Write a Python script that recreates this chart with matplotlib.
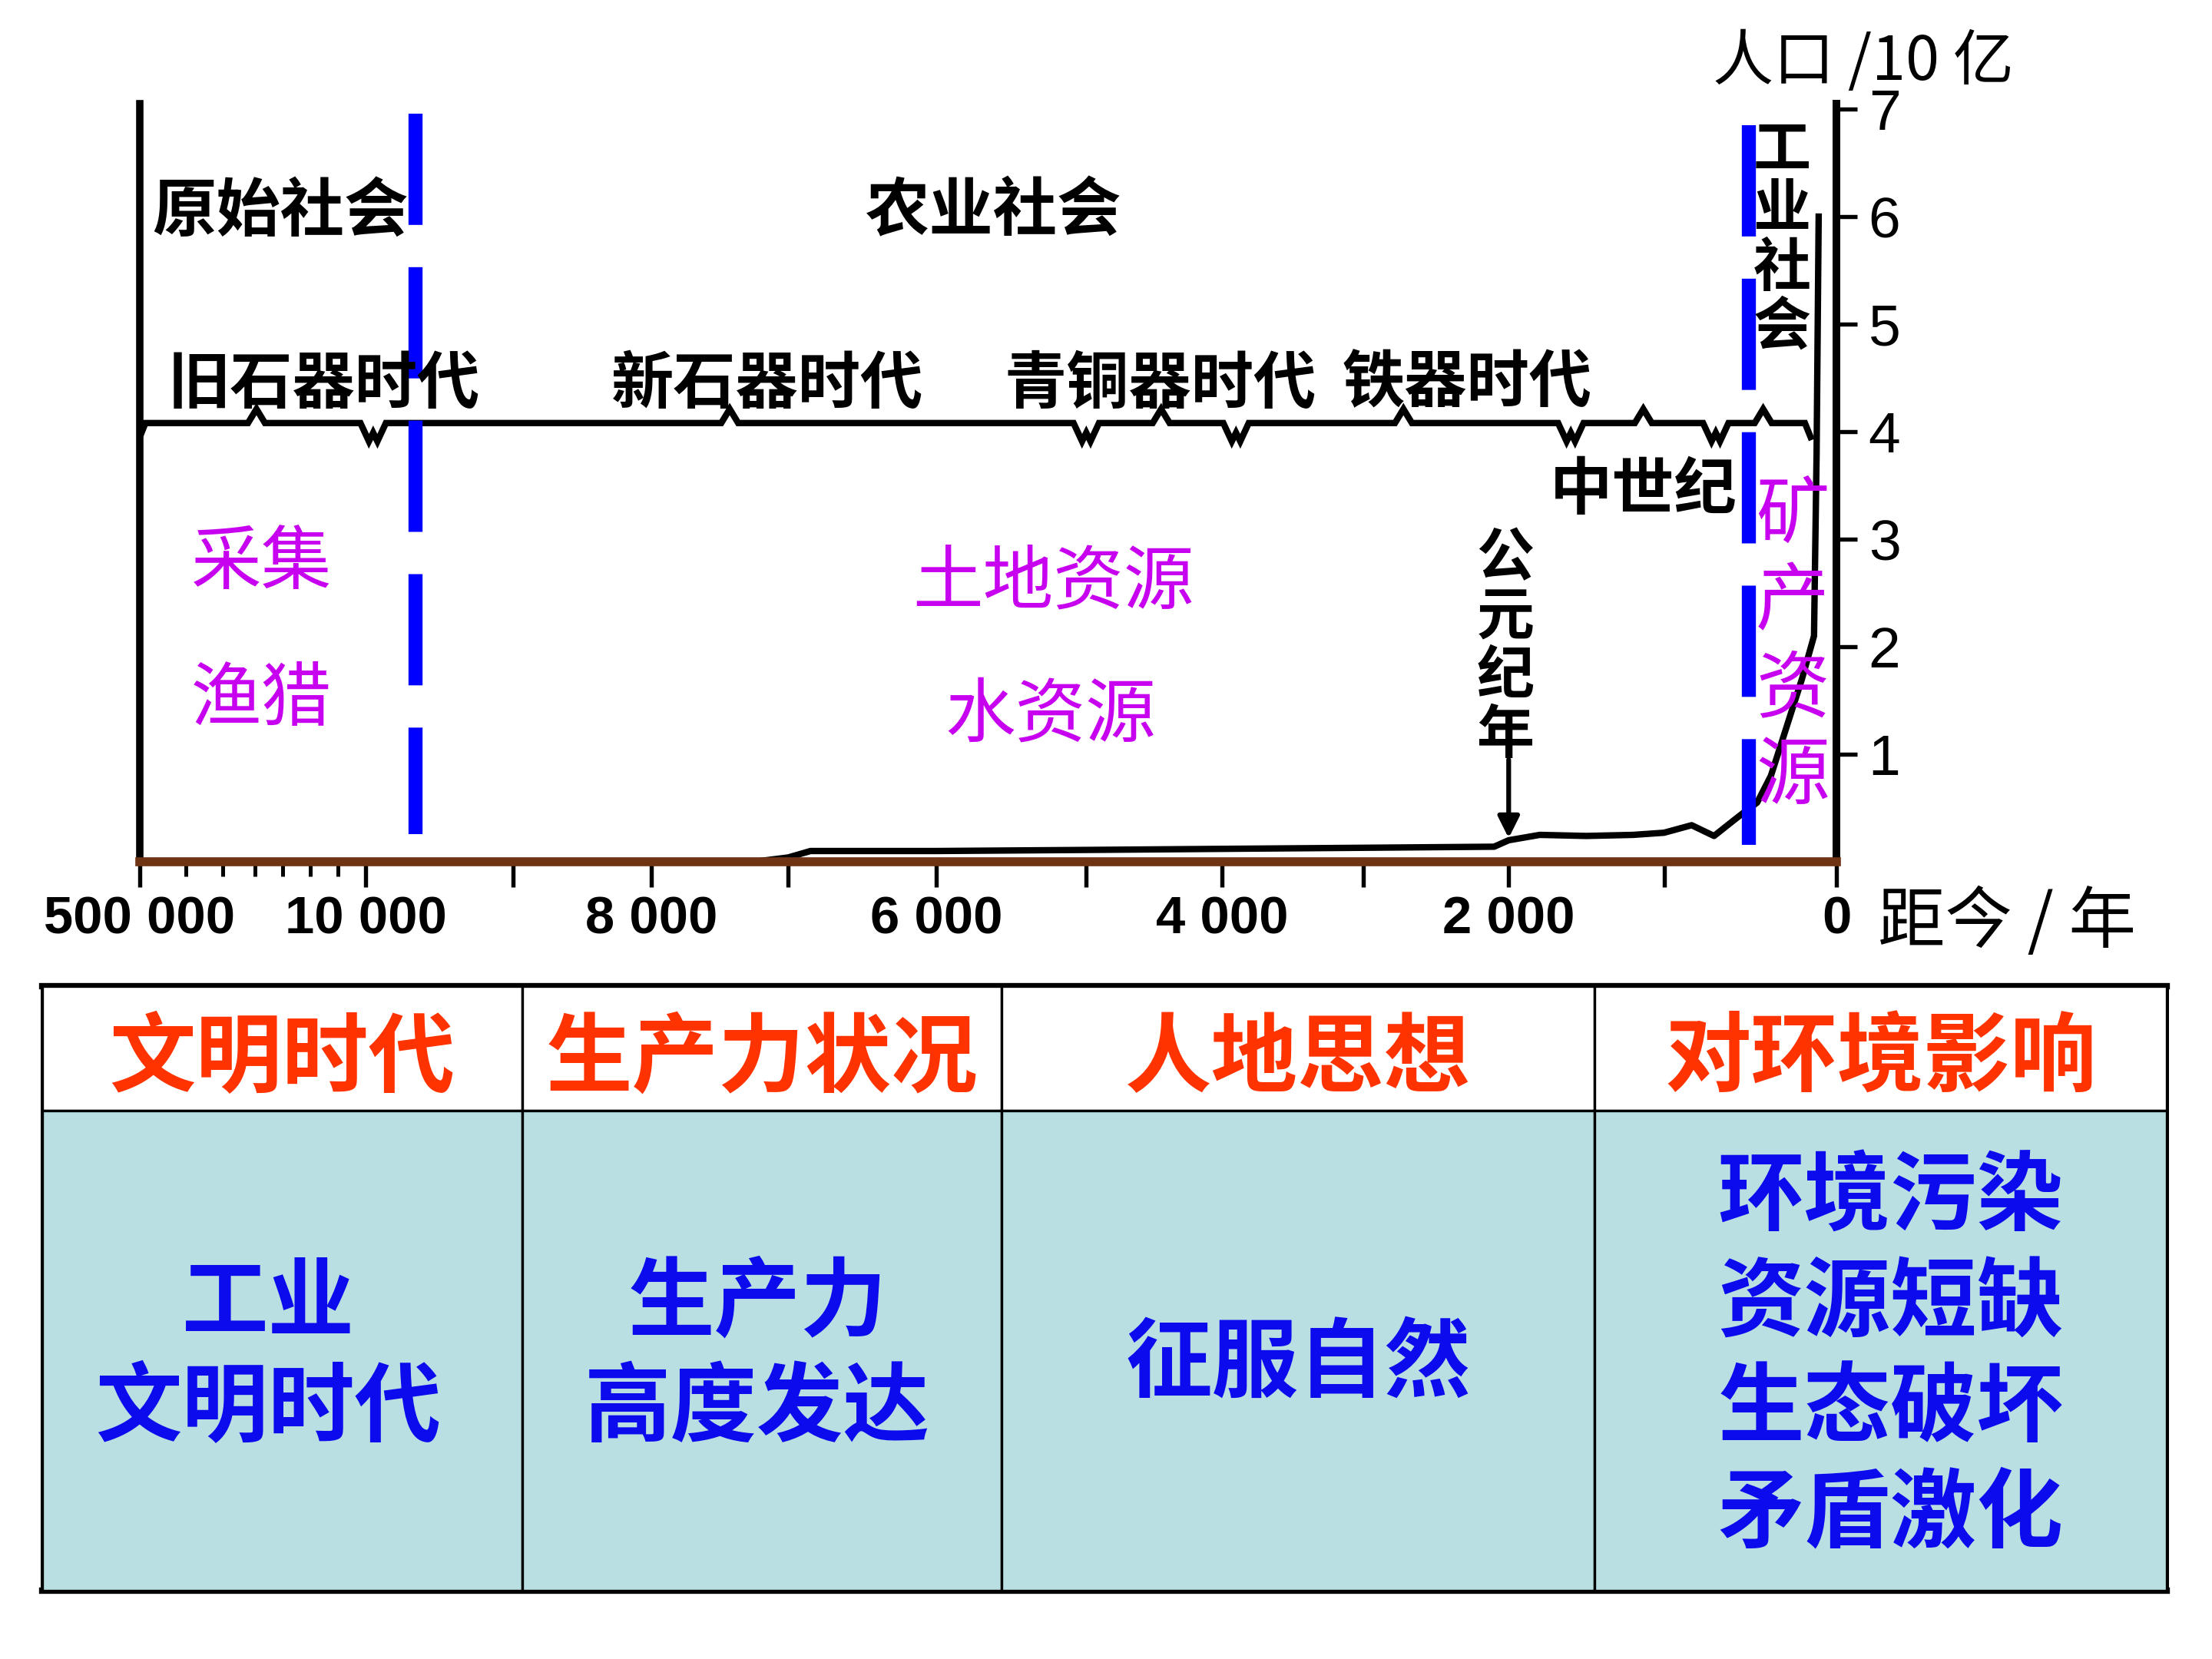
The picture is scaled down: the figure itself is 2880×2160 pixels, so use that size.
import numpy as np
import matplotlib
matplotlib.use("Agg")
import matplotlib.pyplot as plt
import matplotlib.transforms as mtransforms

# ------------------------------------------------------------------ data
# hand-drawn, non-uniform time axis of the original figure (years before present -> axis units)
scale_years = [0, 1000, 2000, 3000, 4000, 5000, 6000, 7000, 8000, 9000, 10000, 500000]
scale_units = [0, 122, 232, 335, 435, 531, 637, 742, 839, 937, 1041, 1201]

x_major_ticks = [500000, 10000, 9000, 8000, 7000, 6000, 5000, 4000, 3000, 2000, 1000, 0]
x_major_labels = ["500 000", "10 000", "", "8 000", "", "6 000", "", "4 000", "", "2 000", "", "0"]
x_minor_ticks = [400000, 320000, 250000, 190000, 130000, 70000]

y_ticks = [1, 2, 3, 4, 5, 6, 7]
y_tick_labels = ["1", "2", "3", "4", "5", "6", "7"]

# world population (billions) vs years before present
pop_years = [7250, 7000, 6850, 6000, 5000, 4000, 3000, 2100, 2000, 1800, 1500, 1200,
             1000, 840, 710, 600, 520, 460, 380, 280, 200, 130, 115, 103]
pop_vals = [0.00, 0.04, 0.10, 0.10, 0.11, 0.12, 0.13, 0.14, 0.20, 0.25, 0.24, 0.25,
            0.27, 0.34, 0.24, 0.38, 0.48, 0.55, 0.80, 1.30, 1.70, 2.10, 3.80, 6.00]

# era braces (boundaries in years before present)
era_bounds = [500000, 9950, 5000, 3900, 1600, 700, 150]
era_level = 4.08

# society dividers (years before present)
society_dividers = [9660, 510]
divider_tops = [6.96, 6.85]
divider_bottoms = [0.26, 0.16]

common_era_year = 2000

society_labels = ["原始社会", "农业社会", "工业社会"]
era_labels = ["旧石器时代", "新石器时代", "青铜器时代", "铁器时代", "中世纪"]
resource_labels = ["采集", "渔猎", "土地资源", "水资源", "矿产资源"]

table_headers = ["文明时代", "生产力状况", "人地思想", "对环境影响"]
table_body = ["工业\n文明时代", "生产力\n高度发达", "征服自然", "环境污染\n资源短缺\n生态破坏\n矛盾激化"]

# ------------------------------------------------------------------ style
CJK = ["Noto Sans CJK SC", "DejaVu Sans"]
NUM = ["Liberation Sans Narrow", "Liberation Sans", "DejaVu Sans"]
plt.rcParams["font.family"] = CJK
MAGENTA = "#C800F0"
BLUE_LINE = "#0000FF"
RED = "#FF3300"
BLUE_TXT = "#0B0BEE"
FILL = "#BADFE2"

W, H = 2880, 2160
fig = plt.figure(figsize=(9.6, 7.2), dpi=300, facecolor="white")


def fbox(x0, y0, x1, y1):
    return [x0 / W, 1 - y1 / H, (x1 - x0) / W, (y1 - y0) / H]


# ------------------------------------------------------------------ chart
ax = fig.add_axes(fbox(182, 135, 2391, 1122))
fwd = lambda t: np.interp(t, scale_years, scale_units)
inv = lambda s: np.interp(s, scale_units, scale_years)
ax.set_xscale("function", functions=(fwd, inv))
ax.set_xlim(500000, 0)
ax.set_ylim(0, 7.05)
ax.patch.set_alpha(0)

ax.spines["top"].set_visible(False)
ax.spines["left"].set_linewidth(2.3)
ax.spines["right"].set_linewidth(2.4)
ax.spines["bottom"].set_linewidth(2.8)
ax.spines["bottom"].set_color("#6E3414")

ax.yaxis.tick_right()
ax.set_yticks(y_ticks, y_tick_labels, fontsize=18, family=NUM)
ax.tick_params(axis="y", direction="out", length=6.5, width=1.3, pad=3.5)

ax.set_xticks(x_major_ticks, x_major_labels, fontsize=16.5, family=NUM, fontweight="bold")
ax.set_xticks(x_minor_ticks, minor=True)
ax.tick_params(axis="x", which="major", direction="out", length=8, width=1.3, pad=2.5)
ax.tick_params(axis="x", which="minor", direction="out", length=4.5, width=1.2)

# society dividers
for t, top, bot in zip(society_dividers, divider_tops, divider_bottoms):
    ax.plot([t, t], [top, bot], color=BLUE_LINE, lw=4.4, dashes=(7.9, 3.0),
            dash_capstyle="butt", solid_capstyle="butt", zorder=3)

# era brace line
sb = fwd(np.array(era_bounds, dtype=float))
L = era_level
pts = [(sb[0], L - 0.13), (sb[0] - 4, L)]
for i in range(len(sb) - 1):
    mid = (sb[i] + sb[i + 1]) / 2
    pts += [(mid + 6, L), (mid, L + 0.13), (mid - 6, L)]
    if i + 1 < len(sb) - 1:
        b = sb[i + 1]
        pts += [(b + 9, L), (b + 3, L - 0.17), (b, L - 0.09), (b - 3, L - 0.17), (b - 9, L)]
pts += [(sb[-1] + 4, L), (sb[-1], L - 0.13)]
bs, by = np.array(pts).T
ax.plot(inv(bs), by, color="black", lw=2.0, solid_joinstyle="miter", zorder=2)

# population curve
ax.plot(pop_years, pop_vals, color="black", lw=2.0, solid_joinstyle="round", zorder=2)

# common era arrow
ax.annotate("", xy=(common_era_year, 0.22), xytext=(common_era_year, 0.95),
            arrowprops=dict(arrowstyle="-|>", color="black", lw=1.5, mutation_scale=14,
                            shrinkA=0, shrinkB=0))

# ------------------------------------------------------------------ overlay texts (pixel coords)
ov = fig.add_axes([0, 0, 1, 1])
ov.set_xlim(0, W)
ov.set_ylim(H, 0)
ov.axis("off")

DY = 9  # CJK optical-centre correction


def T(x, y, s, size, color="black", weight="bold", ha="center", va="center"):
    ov.text(x, y + DY, s, fontsize=size, color=color, fontweight=weight, ha=ha, va=va, family=CJK)


def V(x, y0, pitch, s, size, color="black", weight="bold"):
    for i, ch in enumerate(s):
        T(x, y0 + i * pitch, ch, size, color=color, weight=weight)


T(365, 267, society_labels[0], 20)
T(1294, 267, society_labels[1], 20)
V(2320, 187, 77, society_labels[2], 18)

T(422, 492, era_labels[0], 19.5)
T(999, 492, era_labels[1], 19.5)
T(1511, 492, era_labels[2], 19.5)
T(1910, 490, era_labels[3], 19.5)
T(2140, 630, era_labels[4], 19.5)
V(1960, 718, 77, "公元纪年", 18)

T(340, 725, resource_labels[0], 22, color=MAGENTA, weight="normal")
T(340, 903, resource_labels[1], 22, color=MAGENTA, weight="normal")
T(1371, 750, resource_labels[2], 22, color=MAGENTA, weight="normal")
T(1368, 923, resource_labels[3], 22, color=MAGENTA, weight="normal")
V(2334, 663, 113, resource_labels[4], 23, color=MAGENTA, weight="normal")

T(2230, 72, "人口 /10 亿", 19, weight="normal", ha="left")
T(2445, 1193, "距今 / 年", 21, weight="normal", ha="left")

# ------------------------------------------------------------------ table
tx0, ty0, tx1, ty1 = 55, 1284, 2821, 2071
col_px = [625, 624, 772, 745]
head_h, body_h = 162, 625
tax = fig.add_axes(fbox(tx0, ty0, tx1, ty1))
tax.axis("off")
tbl = tax.table(cellText=[table_headers, table_body],
                colWidths=[c / sum(col_px) for c in col_px],
                cellLoc="center", bbox=[0, 0, 1, 1])
tbl.auto_set_font_size(False)
body_shift = [(-18, -8), (-6, -8), (0, -18), (13, -8)]  # (dx, dy) display px
for j in range(len(table_headers)):
    hc = tbl[0, j]
    hc.set_height(head_h / (head_h + body_h))
    hc.set_facecolor("white")
    hc.set_linewidth(0.8)
    hc.set_text_props(color=RED, fontsize=27, fontweight="bold", family=CJK)
    hc.get_text().set_transform(mtransforms.Affine2D().translate(0, -15))
    bc = tbl[1, j]
    bc.set_height(body_h / (head_h + body_h))
    bc.set_facecolor(FILL)
    bc.set_linewidth(0.8)
    bc.set_text_props(color=BLUE_TXT, fontsize=27, fontweight="bold", family=CJK,
                      linespacing=1.26)
    bc.get_text().set_transform(mtransforms.Affine2D().translate(*body_shift[j]))

# heavier outer borders
ov.plot([tx0, tx1], [ty0, ty0], color="black", lw=2.0, solid_capstyle="projecting")
ov.plot([tx0, tx1], [ty1, ty1], color="black", lw=2.0, solid_capstyle="projecting")
ov.plot([tx0, tx0], [ty0, ty1], color="black", lw=1.2)
ov.plot([tx1, tx1], [ty0, ty1], color="black", lw=1.2)
ov.plot([tx0, tx1], [ty0 + head_h, ty0 + head_h], color="black", lw=1.2)

fig.savefig("out.png", dpi=300, facecolor="white")
